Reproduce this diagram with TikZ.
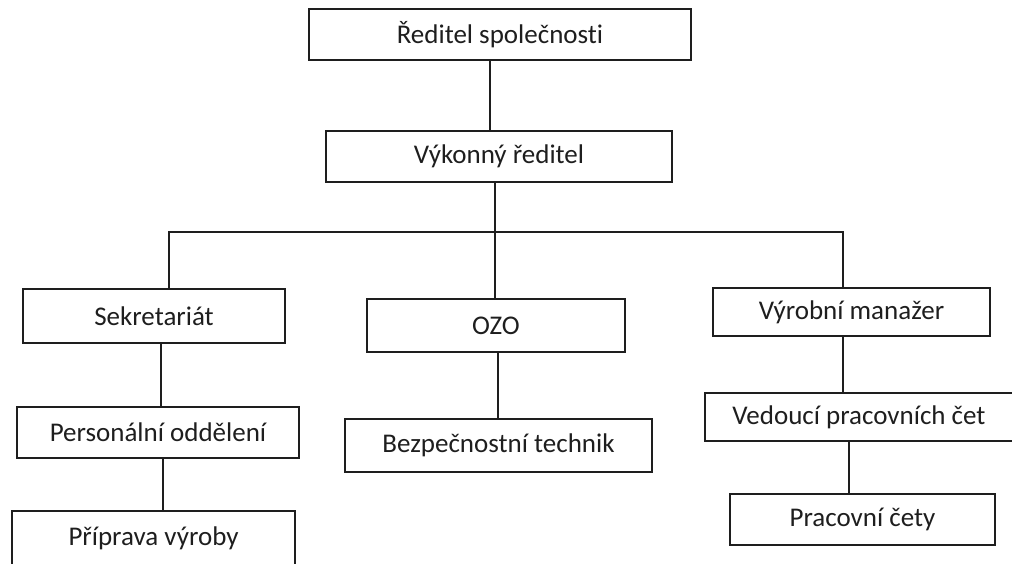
\documentclass[tikz,border=0pt]{standalone}
\usepackage{fontspec}
\setmainfont{Carlito}[Ligatures=NoCommon]
\usetikzlibrary{positioning}
\definecolor{ink}{RGB}{30, 30, 30}
\tikzset{
  orgbox/.style={draw=ink, line width=1.8pt, inner sep=0pt, minimum height=51pt,
    text=ink, font=\fontsize{27}{31}\selectfont},
  orgline/.style={draw=ink, line width=1.8pt},
}

\begin{document}
\begin{tikzpicture}[x=1pt, y=-1pt]
    \useasboundingbox (0,0) rectangle (1012,564);
    \clip (0,0) rectangle (1012,564);
    % top of the chart
    \node[orgbox, minimum width=382pt] (reditel) at (500,34.5) {Ředitel společnosti};
    \node[orgbox, minimum width=346pt] (vykonny) at (499,156.5) {Výkonný ředitel};
    % three branches
    \node[orgbox, minimum width=262pt, minimum height=54pt] (sekretariat) at (154,316) {Sekretariát};
    \node[orgbox, minimum width=258pt, minimum height=53pt] (ozo) at (496,325.5) {OZO};
    \node[orgbox, minimum width=277pt, minimum height=48pt] (vyrobni) at (851.5,312) {Výrobní manažer};
    % lower levels
    \node[orgbox, minimum width=282pt] (personalni) at (158,432.5) {Personální oddělení};
    \node[orgbox, minimum width=283pt, minimum height=54pt] (priprava) at (153.5,538) {Příprava výroby};
    \node[orgbox, minimum width=307pt, minimum height=53pt] (bezpecnost) at (498.5,445.5) {Bezpečnostní technik};
    \node[orgbox, minimum width=308pt, minimum height=48pt] (vedouci) at (859,417) {Vedoucí pracovních čet};
    \node[orgbox, minimum width=265pt] (cety) at (862.5,519.5) {Pracovní čety};

    \draw[orgline] ([xshift=-10pt]reditel.south) -- ([xshift=-9pt]vykonny.north);
    \draw[orgline] ([xshift=-4pt]vykonny.south) -- ++(0,49) coordinate (split);
    \draw[orgline] ([xshift=15pt]sekretariat.north) |- (split) -| ([xshift=-8.5pt]vyrobni.north);
    \draw[orgline] (split) -- (split |- ozo.north);
    \draw[orgline] ([xshift=7pt]sekretariat.south) -- ([xshift=3pt]personalni.north);
    \draw[orgline] ([xshift=5pt]personalni.south) -- ([xshift=9.5pt]priprava.north);
    \draw[orgline] ([xshift=2pt]ozo.south) -- ([xshift=-0.5pt]bezpecnost.north);
    \draw[orgline] ([xshift=-8.5pt]vyrobni.south) -- ([xshift=-16pt]vedouci.north);
    \draw[orgline] ([xshift=-10pt]vedouci.south) -- ([xshift=-13.5pt]cety.north);
\end{tikzpicture}
\end{document}
